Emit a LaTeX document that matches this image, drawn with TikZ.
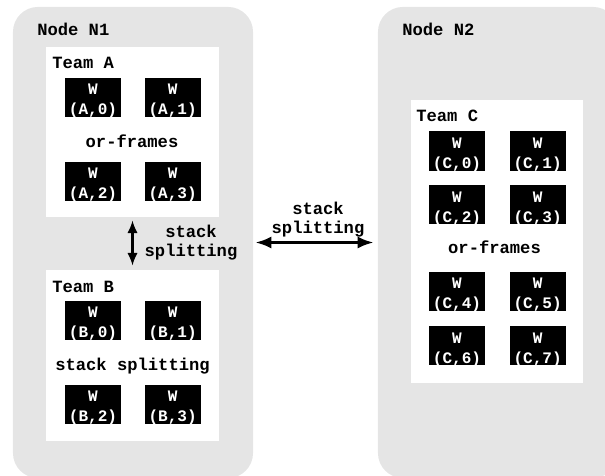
\documentclass[tikz,border=0pt]{standalone}
\usepackage{fontspec}
\setmonofont{Liberation Mono}
\usetikzlibrary{arrows.meta,positioning}
\definecolor{PanelGray}{HTML}{E5E5E5}
\definecolor{WorkerBlack}{HTML}{000000}
\newcommand{\labelfont}{\ttfamily\bfseries\fontsize{12.2}{13.5}\selectfont}
\newcommand{\workerfont}{\ttfamily\bfseries\fontsize{11.4}{13}\selectfont}
\tikzset{
  panel/.style={fill=PanelGray, rounded corners=0.625cm, minimum width=6cm,
                minimum height=11.775cm, inner sep=0pt},
  team/.style={fill=white, inner sep=0pt},
  wtext/.style={text=white, inner sep=0pt, font=\workerfont, anchor=base},
  worker/.style={fill=WorkerBlack, minimum width=1.4cm, minimum height=0.975cm, inner sep=0pt,
                 label={[wtext,yshift=-0.43cm]north:W},
                 label={[wtext,yshift=-0.93cm]north:(#1)}},
  lbl/.style={inner sep=0pt, font=\labelfont},
  split/.style={{Latex[length=4mm,width=3mm]}-{Latex[length=4mm,width=3mm]}, line width=2.1pt},
  vsplit/.style={{Latex[length=3.2mm,width=2.6mm]}-{Latex[length=3.2mm,width=2.6mm]}, line width=1.6pt},
}
\begin{document}
\begin{tikzpicture}[x=0.025cm,y=-0.025cm]
    \useasboundingbox (0,0) rectangle (605,475);
    % compute nodes
    \node[panel] (n1) at (133,242.5) {};
    \node[panel] (n2) at (498,242.5) {};
    \node[lbl,anchor=base west] (n1lbl) at (37,35) {Node N1};
    \node[lbl,anchor=base west] (n2lbl) at (402,35) {Node N2};
    % teams
    \node[team,minimum width=4.325cm,minimum height=4.25cm] (ta) at (132.5,132) {};
    \node[team,minimum width=4.325cm,minimum height=4.275cm] (tb) at (132.5,355.5) {};
    \node[team,minimum width=4.3cm,minimum height=7.075cm] (tc) at (497,241.5) {};
    \node[lbl,anchor=base west] (talbl) at (52,68) {Team A};
    \node[lbl,anchor=base west] (tblbl) at (52,292) {Team B};
    \node[lbl,anchor=base west] (tclbl) at (416,121) {Team C};
    % team A workers
    \node[worker={A,0}] (a0) at (93,97.5) {};
    \node[worker={A,1},right=0.575cm of a0] (a1) {};
    \node[worker={A,2},below=1.1cm of a0] (a2) {};
    \node[worker={A,3},right=0.575cm of a2] (a3) {};
    \node[lbl,anchor=base] (orfa) at (132,147) {or-frames};
    % team B workers
    \node[worker={B,0}] (b0) at (93,320.5) {};
    \node[worker={B,1},right=0.575cm of b0] (b1) {};
    \node[worker={B,2},below=1.1cm of b0] (b2) {};
    \node[worker={B,3},right=0.575cm of b2] (b3) {};
    \node[lbl,anchor=base] (ssb) at (132.5,370) {stack splitting};
    % team C workers
    \node[worker={C,0}] (c0) at (457,151) {};
    \node[worker={C,1},right=0.6cm of c0] (c1) {};
    \node[worker={C,2},below=0.35cm of c0] (c2) {};
    \node[worker={C,3},right=0.6cm of c2] (c3) {};
    \node[worker={C,4},below=1.175cm of c2] (c4) {};
    \node[worker={C,5},right=0.6cm of c4] (c5) {};
    \node[worker={C,6},below=0.375cm of c4] (c6) {};
    \node[worker={C,7},right=0.6cm of c6] (c7) {};
    \node[lbl,anchor=base] (orfc) at (494.5,253) {or-frames};
    % splitting between teams and nodes
    \draw[vsplit,shorten <=0.075cm,shorten >=0.1cm] (ta.south) -- (tb.north);
    \node[lbl,align=center] (vlbl) at (191,243) {stack\\splitting};
    \draw[split,shorten <=0.05cm,shorten >=0.1cm] (n1.east) -- (n2.west);
    \node[lbl,align=center] (hlbl) at (318,220) {stack\\splitting};
  \end{tikzpicture}
\end{document}
